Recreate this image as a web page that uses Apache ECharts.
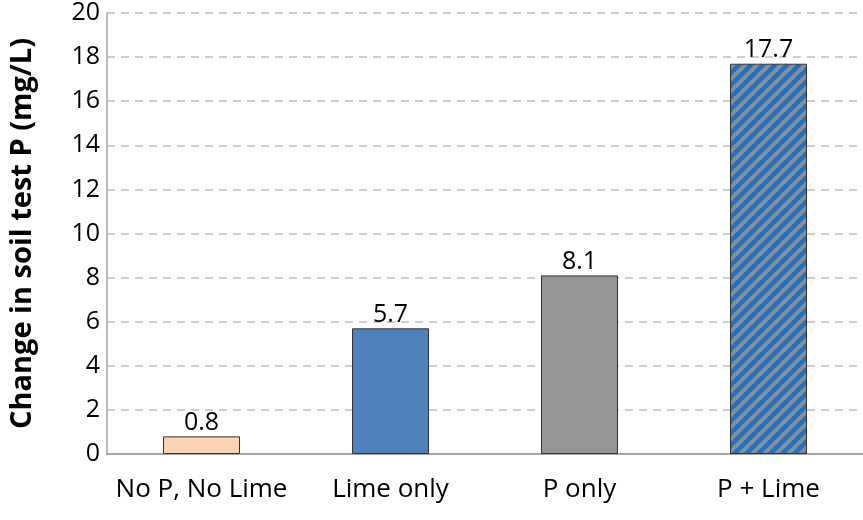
<!DOCTYPE html>
<html><head><meta charset="utf-8">
<script src="https://cdn.jsdelivr.net/npm/echarts@6/dist/echarts.min.js"></script>
<style>html,body{margin:0;padding:0;background:#fff}#c{width:863px;height:520px}</style>
</head><body><div id="c"></div>
<script>
const categories = ['No P, No Lime', 'Lime only', 'P only', 'P + Lime'];
const values = [0.8, 5.7, 8.1, 17.7];
const yTicks = [0, 2, 4, 6, 8, 10, 12, 14, 16, 18, 20];

function hatch() {
  const s = 12;
  const c = document.createElement('canvas');
  c.width = s; c.height = s;
  const g = c.getContext('2d');
  g.fillStyle = '#8a8f96';
  g.fillRect(0, 0, s, s);
  g.strokeStyle = '#2271c0';
  g.lineWidth = 4.5;
  for (let k = -1; k <= 1; k++) {
    g.beginPath();
    g.moveTo(k * s - 1, s + 1);
    g.lineTo(k * s + s + 1, -1);
    g.stroke();
  }
  return c;
}

const fills = ['#fbd4b4', '#4f81bd', '#959595', {image: hatch(), repeat: 'repeat'}];
const font = '"Open Sans", "Noto Sans", sans-serif';

const chart = echarts.init(document.getElementById('c'), null, {renderer: 'canvas'});
chart.setOption({
  animation: false,
  grid: {left: 105, top: 13, width: 761, height: 441, containLabel: false},
  xAxis: {
    type: 'category',
    data: categories,
    axisLine: {lineStyle: {color: '#a6a6a6', width: 2}},
    axisTick: {show: false},
    axisLabel: {color: '#000', fontSize: 26, fontFamily: font, margin: 23, interval: 0}
  },
  yAxis: {
    type: 'value',
    min: 0, max: 20, interval: 2,
    name: 'Change in soil test P (mg/L)',
    nameLocation: 'middle',
    nameGap: 70,
    nameTextStyle: {color: '#000', fontSize: 29, fontWeight: 'bold', fontFamily: font},
    axisLine: {show: true, lineStyle: {color: '#a6a6a6', width: 1.5}},
    axisTick: {show: false},
    axisLabel: {color: '#000', fontSize: 25, fontFamily: font, margin: 7,
      formatter: v => yTicks.includes(v) ? String(v) : ''},
    splitLine: {lineStyle: {color: '#bfbfbf', type: [8, 6], width: 1.5}}
  },
  series: [{
    type: 'bar',
    barWidth: 77,
    data: values.map((v, i) => ({value: v, itemStyle: {color: fills[i]}})),
    itemStyle: {borderColor: '#333', borderWidth: 1},
    label: {show: true, position: 'top', distance: 1, color: '#000', fontSize: 25, fontFamily: font,
      formatter: p => p.value.toFixed(1)}
  }]
});
</script></body></html>
